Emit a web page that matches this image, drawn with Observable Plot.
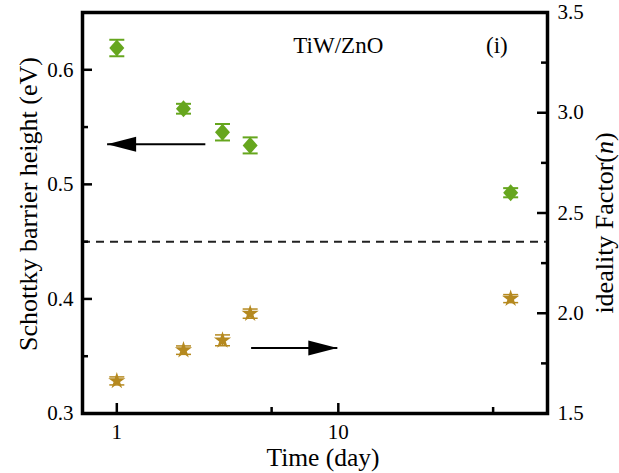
<!DOCTYPE html>
<html><head><meta charset="utf-8">
<script src="https://cdn.jsdelivr.net/npm/d3@7"></script>
<script src="https://cdn.jsdelivr.net/npm/@observablehq/plot@0.6"></script>
<style>html,body{margin:0;padding:0;background:#fff;overflow:hidden;}
svg text, svg tspan{font-family:'Liberation Serif','Times New Roman',serif;}</style>
</head><body><div id="chart"></div>
<script>
// ---- data ----
const days = [1, 2, 3, 4, 60];
const barrierHeight = [0.619, 0.566, 0.5455, 0.534, 0.4927];
const barrierErr = [0.0072, 0.0043, 0.0072, 0.007, 0.004];
const idealityFactor = [1.6625, 1.816, 1.865, 1.998, 2.073];
const idealityErr = [0.02, 0.021, 0.027, 0.023, 0.02];
const referenceLine = [0.45];
const xMajorTicks = [1, 10];
const xMinorTicks = [5, 50];
const leftMajorTicks = [0.3, 0.4, 0.5, 0.6];
const leftMinorTicks = [0.35, 0.45, 0.55];
const rightMajorTicks = [1.5, 2.0, 2.5, 3.0, 3.5];
const rightMinorTicks = [1.75, 2.25, 2.75, 3.25];
const arrowStart = [2.51, 4.04];
const arrowEnd = [0.904, 9.9];
const arrowLevelLeft = [0.535];   // eV, left axis
const arrowLevelRight = [1.827];  // n, right axis
const annotations = ["TiW/ZnO", "(i)"];
const annotationX = [10, 52];
const annotationY = [0.621, 0.621];

// ---- layout ----
const W = 619, H = 473, mL = 82, mR = 72, mT = 12, mB = 60;
const iw = W - mL - mR, ih = H - mT - mB;
const leftDomain = [0.3, 0.65], rightDomain = [1.5, 3.5];
const k = (leftDomain[1] - leftDomain[0]) / (rightDomain[1] - rightDomain[0]);
const toLeft = n => leftDomain[0] + (n - rightDomain[0]) * k;
const fromLeft = v => rightDomain[0] + (v - leftDomain[0]) / k;
const green = "#66a61e", gold = "#b5891f";
const FF = "'Liberation Serif', 'Times New Roman', serif";

const diamond = {draw(c){c.moveTo(0,-8.5);c.lineTo(7.5,0);c.lineTo(0,8.5);c.lineTo(-7.5,0);c.closePath();}};
const cap = {draw(c){c.moveTo(-7.5,0);c.lineTo(7.5,0);}};
const headLeft = {draw(c){c.moveTo(0,0);c.lineTo(29,-7.5);c.lineTo(29,7.5);c.closePath();}};
const headRight = {draw(c){c.moveTo(0,0);c.lineTo(-29,-7.5);c.lineTo(-29,7.5);c.closePath();}};

const sbh = days.map((d, i) => ({day: d, v: barrierHeight[i], e: barrierErr[i]}));
const ideal = days.map((d, i) => ({day: d, v: toLeft(idealityFactor[i]), lo: toLeft(idealityFactor[i] - idealityErr[i]), hi: toLeft(idealityFactor[i] + idealityErr[i])}));
const arrows = [
  {x1: arrowStart[0], x2: arrowEnd[0], y: arrowLevelLeft[0]},
  {x1: arrowStart[1], x2: arrowEnd[1], y: toLeft(arrowLevelRight[0])}
];
const notes = annotations.map((t, i) => ({t, x: annotationX[i], y: annotationY[i]}));

const fmt = d3.format(".1f");
const plot = Plot.plot({
  width: W, height: H,
  marginLeft: mL, marginRight: mR, marginTop: mT, marginBottom: mB,
  x: {type: "log", domain: [0.7, 88]},
  y: {domain: leftDomain},
  style: {fontFamily: FF, fontSize: "21px", background: "white", color: "black"},
  marks: [
    Plot.ruleY(referenceLine, {y: d => d, stroke: "#222", strokeWidth: 2, strokeDasharray: "8,6"}),
    // Schottky barrier height
    Plot.ruleX(sbh, {x: "day", y1: d => d.v - d.e, y2: d => d.v + d.e, stroke: green, strokeWidth: 1.8}),
    Plot.dot(sbh, {x: "day", y: d => d.v - d.e, symbol: cap, stroke: green, strokeWidth: 2, fill: "none"}),
    Plot.dot(sbh, {x: "day", y: d => d.v + d.e, symbol: cap, stroke: green, strokeWidth: 2, fill: "none"}),
    Plot.dot(sbh, {x: "day", y: "v", symbol: diamond, fill: green, stroke: "none"}),
    // ideality factor
    Plot.ruleX(ideal, {x: "day", y1: "lo", y2: "hi", stroke: gold, strokeWidth: 1.5}),
    Plot.dot(ideal, {x: "day", y: "lo", symbol: cap, stroke: gold, strokeWidth: 1.5, fill: "none"}),
    Plot.dot(ideal, {x: "day", y: "hi", symbol: cap, stroke: gold, strokeWidth: 1.5, fill: "none"}),
    Plot.dot(ideal, {x: "day", y: "v", symbol: "star", r: 5.4, fill: gold, stroke: "none"}),
    // arrows
    Plot.link(arrows, {x1: "x1", x2: "x2", y1: "y", y2: "y", stroke: "black", strokeWidth: 2}),
    Plot.dot([arrows[0]], {x: "x2", y: "y", symbol: headLeft, fill: "black", stroke: "none"}),
    Plot.dot([arrows[1]], {x: "x2", y: "y", symbol: headRight, fill: "black", stroke: "none"}),
    // annotations
    Plot.text(notes, {x: "x", y: "y", text: "t", fontSize: 23, fontFamily: FF, textAnchor: "middle", lineAnchor: "middle"}),
    // frame
    Plot.frame({stroke: "black", strokeWidth: 3.5}),
    // inward ticks
    Plot.tickX(xMajorTicks, {x: d => d, insetTop: ih - 10, stroke: "black", strokeWidth: 2.5}),
    Plot.tickX(xMinorTicks, {x: d => d, insetTop: ih - 6, stroke: "black", strokeWidth: 2.5}),
    Plot.tickY(leftMajorTicks, {y: d => d, insetRight: iw - 10, stroke: "black", strokeWidth: 2.5}),
    Plot.tickY(leftMinorTicks, {y: d => d, insetRight: iw - 6, stroke: "black", strokeWidth: 2.5}),
    Plot.tickY(rightMajorTicks.map(toLeft), {y: d => d, insetLeft: iw - 10, stroke: "black", strokeWidth: 2.5}),
    Plot.tickY(rightMinorTicks.map(toLeft), {y: d => d, insetLeft: iw - 6, stroke: "black", strokeWidth: 2.5}),
    // axis labels
    Plot.axisX({ticks: xMajorTicks, tickSize: 0, tickPadding: 11, tickFormat: d => String(d), fontSize: 21, fontFamily: FF, label: null}),
    Plot.axisY({anchor: "left", ticks: leftMajorTicks, tickSize: 0, tickPadding: 9, tickFormat: fmt, fontSize: 21, fontFamily: FF, label: null}),
    Plot.axisY({anchor: "right", ticks: rightMajorTicks.map(toLeft), tickSize: 0, tickPadding: 10, tickFormat: d => fmt(fromLeft(d)), fontSize: 21, fontFamily: FF, label: null}),
    // titles
    Plot.text(["Schottky barrier height (eV)"], {text: d => d, frameAnchor: "left", rotate: -90, dx: -54, dy: -9, fontSize: 26, fontFamily: FF, textAnchor: "middle", lineAnchor: "middle"}),
    Plot.text(["ideality Factor(n)"], {text: d => d, frameAnchor: "right", rotate: -90, dx: 57, dy: 10, fontSize: 26, fontFamily: FF, textAnchor: "middle", lineAnchor: "middle"}),
    Plot.text(["Time (day)"], {text: d => d, frameAnchor: "bottom", dx: 8, dy: 44, fontSize: 25.5, fontFamily: FF, textAnchor: "middle", lineAnchor: "middle"})
  ]
});
// italic n in right title
plot.querySelectorAll("text").forEach(t => {
  if (t.textContent === "ideality Factor(n)") {
    t.textContent = "";
    const ns = "http://www.w3.org/2000/svg";
    const a = document.createElementNS(ns, "tspan"); a.textContent = "ideality Factor(";
    const b = document.createElementNS(ns, "tspan"); b.textContent = "n"; b.setAttribute("font-style", "italic");
    const c = document.createElementNS(ns, "tspan"); c.textContent = ")";
    t.append(a, b, c);
  }
});
document.getElementById("chart").append(plot);
</script>
</body></html>
